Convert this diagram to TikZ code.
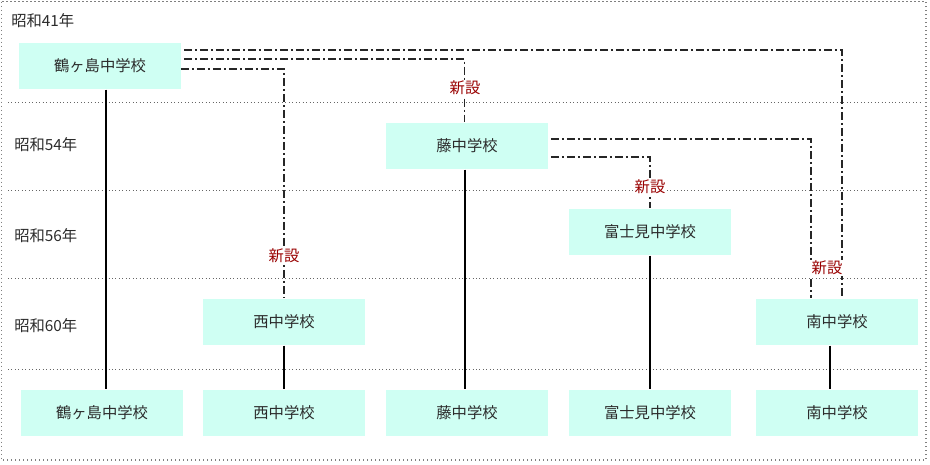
\documentclass[tikz,border=0pt]{standalone}
\usepackage{fontspec}
\setmainfont{Noto Sans CJK JP}
\usetikzlibrary{calc}
\definecolor{boxfill}{HTML}{CFFFF3}
\definecolor{newred}{HTML}{990000}
\definecolor{txtgray}{HTML}{2B2B2B}
\begin{document}
\begin{tikzpicture}[x=0.75pt,y=-0.75pt,every node/.style={font=\fontsize{11.5}{13}\selectfont,text=txtgray},
  school/.style={fill=boxfill,minimum width=121pt,minimum height=35pt,inner sep=0pt},
  year/.style={anchor=west,inner sep=0pt},
  newlabel/.style={fill=white,text=newred,inner sep=1pt},
  branch/.style={line width=1.2pt,black!85,dash pattern=on 6pt off 2.2pt on 1.6pt off 2.2pt},
  stay/.style={line width=1.5pt,black}]
\useasboundingbox (0,0) rectangle (930,464);
% frame
\draw[gray,dotted,line width=1pt] (1.5,1.5) rectangle (926,460);
% era lines
\foreach \yy in {102,190,278,369}
  \draw[black!60,dotted,line width=0.6pt] (8,\yy) -- (920,\yy);
\node[year] (y41) at (11,21) {昭和41年};
\node[year] (y54) at (14,145) {昭和54年};
\node[year] (y56) at (14,236) {昭和56年};
\node[year] (y60) at (14,326) {昭和60年};
% schools
\node[school] (tsuru41) at (100,66) {鶴ヶ島中学校};
\node[school] (fuji54) at (467,146) {藤中学校};
\node[school] (fujimi56) at (650,232) {富士見中学校};
\node[school] (nishi60) at (284,322) {西中学校};
\node[school] (minami60) at (837,322) {南中学校};
\node[school] (tsuru) at (102,413) {鶴ヶ島中学校};
\node[school] (nishi) at (284,413) {西中学校};
\node[school] (fuji) at (467,413) {藤中学校};
\node[school] (fujimi) at (650,413) {富士見中学校};
\node[school] (minami) at (837,413) {南中学校};
% continued
\draw[stay] ([xshift=4.5pt]tsuru41.south) -- ([xshift=3pt]tsuru.north);
\draw[stay] ([xshift=-1.5pt]fuji54.south) -- ([xshift=-1.5pt]fuji.north);
\draw[stay] (fujimi56.south) -- (fujimi.north);
\draw[stay] (nishi60.south) -- (nishi.north);
\draw[stay] ([xshift=-5pt]minami60.south) -- ([xshift=-5pt]minami.north);
% new schools
\draw[branch] ($(tsuru41.east)+(3,-16)$) -| ([xshift=3.75pt]minami60.north);
\draw[branch] ($(tsuru41.east)+(3,-7)$) -| ([xshift=-2pt]fuji54.north);
\draw[branch] ($(tsuru41.east)+(0,3)$) -| (nishi60.north);
\draw[branch] ($(fuji54.east)+(3,-7)$) -| ([xshift=-19.5pt]minami60.north);
\draw[branch] ($(fuji54.east)+(3,11)$) -| (fujimi56.north);
\node[newlabel] (new1) at (465,88) {新設};
\node[newlabel] (new2) at (284,256) {新設};
\node[newlabel] (new3) at (650,187) {新設};
\node[newlabel] (new4) at (827,268) {新設};
\end{tikzpicture}
\end{document}
